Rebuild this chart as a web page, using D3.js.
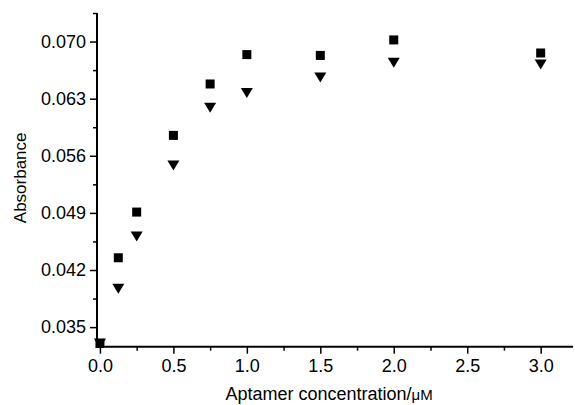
<!DOCTYPE html>
<html>
<head>
<meta charset="utf-8">
<script src="https://cdn.jsdelivr.net/npm/d3@7"></script>
<style>
  html, body { margin: 0; padding: 0; background: #fff; }
  svg text { font-family: Arial, "Liberation Sans", sans-serif; fill: #000; }
</style>
</head>
<body>
<svg id="chart" width="575" height="405"></svg>
<script>
// Aptamer concentration (µM)
const concentration = [0, 0.125, 0.25, 0.5, 0.75, 1.0, 1.5, 2.0, 3.0];
// Absorbance, series drawn with filled squares
const absSquare = [0.0330, 0.0435, 0.0491, 0.0585, 0.0648, 0.0684, 0.0683, 0.0702, 0.0686];
// Absorbance, series drawn with filled down-triangles
const absTriangle = [0.0330, 0.0397, 0.0461, 0.0548, 0.0619, 0.0637, 0.0656, 0.0674, 0.0672];

const xMajorTicks = [0, 0.5, 1.0, 1.5, 2.0, 2.5, 3.0];
const xMinorTicks = [0.25, 0.75, 1.25, 1.75, 2.25, 2.75];
const yMajorTicks = [0.035, 0.042, 0.049, 0.056, 0.063, 0.070];
const yMinorTicks = [0.0385, 0.0455, 0.0525, 0.0595, 0.0665, 0.0735];

const svg = d3.select("#chart");
const plotLeft = 97, plotRight = 573, plotTop = 13, plotBottom = 346.7;

const x = d3.scaleLinear().domain([-0.02, 3.22]).range([plotLeft, plotRight]);
const y = d3.scaleLinear().domain([0.0326, 0.0735]).range([plotBottom, plotTop]);

function styleAxis(g) {
  g.select(".domain").remove();
  g.selectAll(".tick line").attr("stroke", "#000").attr("stroke-width", 1.5);
  g.selectAll(".tick text").attr("font-size", 18);
}

// x axis: minor then major ticks
svg.append("g").attr("transform", `translate(0,${plotBottom})`)
  .call(d3.axisBottom(x).tickValues(xMinorTicks).tickSize(4).tickFormat(""))
  .call(styleAxis);
svg.append("g").attr("transform", `translate(0,${plotBottom})`)
  .call(d3.axisBottom(x).tickValues(xMajorTicks).tickSize(7).tickPadding(6).tickFormat(d3.format(".1f")))
  .call(styleAxis);

// y axis
svg.append("g").attr("transform", `translate(${plotLeft},0)`)
  .call(d3.axisLeft(y).tickValues(yMinorTicks).tickSize(4).tickFormat(""))
  .call(styleAxis);
svg.append("g").attr("transform", `translate(${plotLeft},0)`)
  .call(d3.axisLeft(y).tickValues(yMajorTicks).tickSize(7).tickPadding(4).tickFormat(d3.format(".3f")))
  .call(styleAxis);

// axis lines
svg.append("line").attr("x1", plotLeft - 1).attr("x2", plotRight).attr("y1", plotBottom).attr("y2", plotBottom)
  .attr("stroke", "#000").attr("stroke-width", 2);
svg.append("line").attr("x1", plotLeft).attr("x2", plotLeft).attr("y1", plotTop).attr("y2", plotBottom + 1)
  .attr("stroke", "#000").attr("stroke-width", 2);

// axis titles
svg.append("text")
  .attr("transform", `translate(26,${(plotTop + plotBottom) / 2 - 2}) rotate(-90)`)
  .attr("text-anchor", "middle").attr("font-size", 17)
  .text("Absorbance");

const xt = svg.append("text")
  .attr("x", (plotLeft + plotRight) / 2 - 6).attr("y", 400)
  .attr("text-anchor", "middle").attr("font-size", 18);
xt.append("tspan").text("Aptamer concentration/");
xt.append("tspan").attr("font-size", 15).text("μM");

// markers
const sq = 9;
svg.append("g").selectAll("rect")
  .data(concentration.map((c, i) => ({ c, v: absSquare[i] })))
  .join("rect")
  .attr("x", d => x(d.c) - sq / 2).attr("y", d => y(d.v) - sq / 2)
  .attr("width", sq).attr("height", sq).attr("fill", "#000");

const tw = 12, th = 10;
svg.append("g").selectAll("path")
  .data(concentration.map((c, i) => ({ c, v: absTriangle[i] })))
  .join("path")
  .attr("transform", d => `translate(${x(d.c)},${y(d.v)})`)
  .attr("d", `M${-tw / 2},${-th / 2}L${tw / 2},${-th / 2}L0,${th / 2}Z`)
  .attr("fill", "#000");
</script>
</body>
</html>
